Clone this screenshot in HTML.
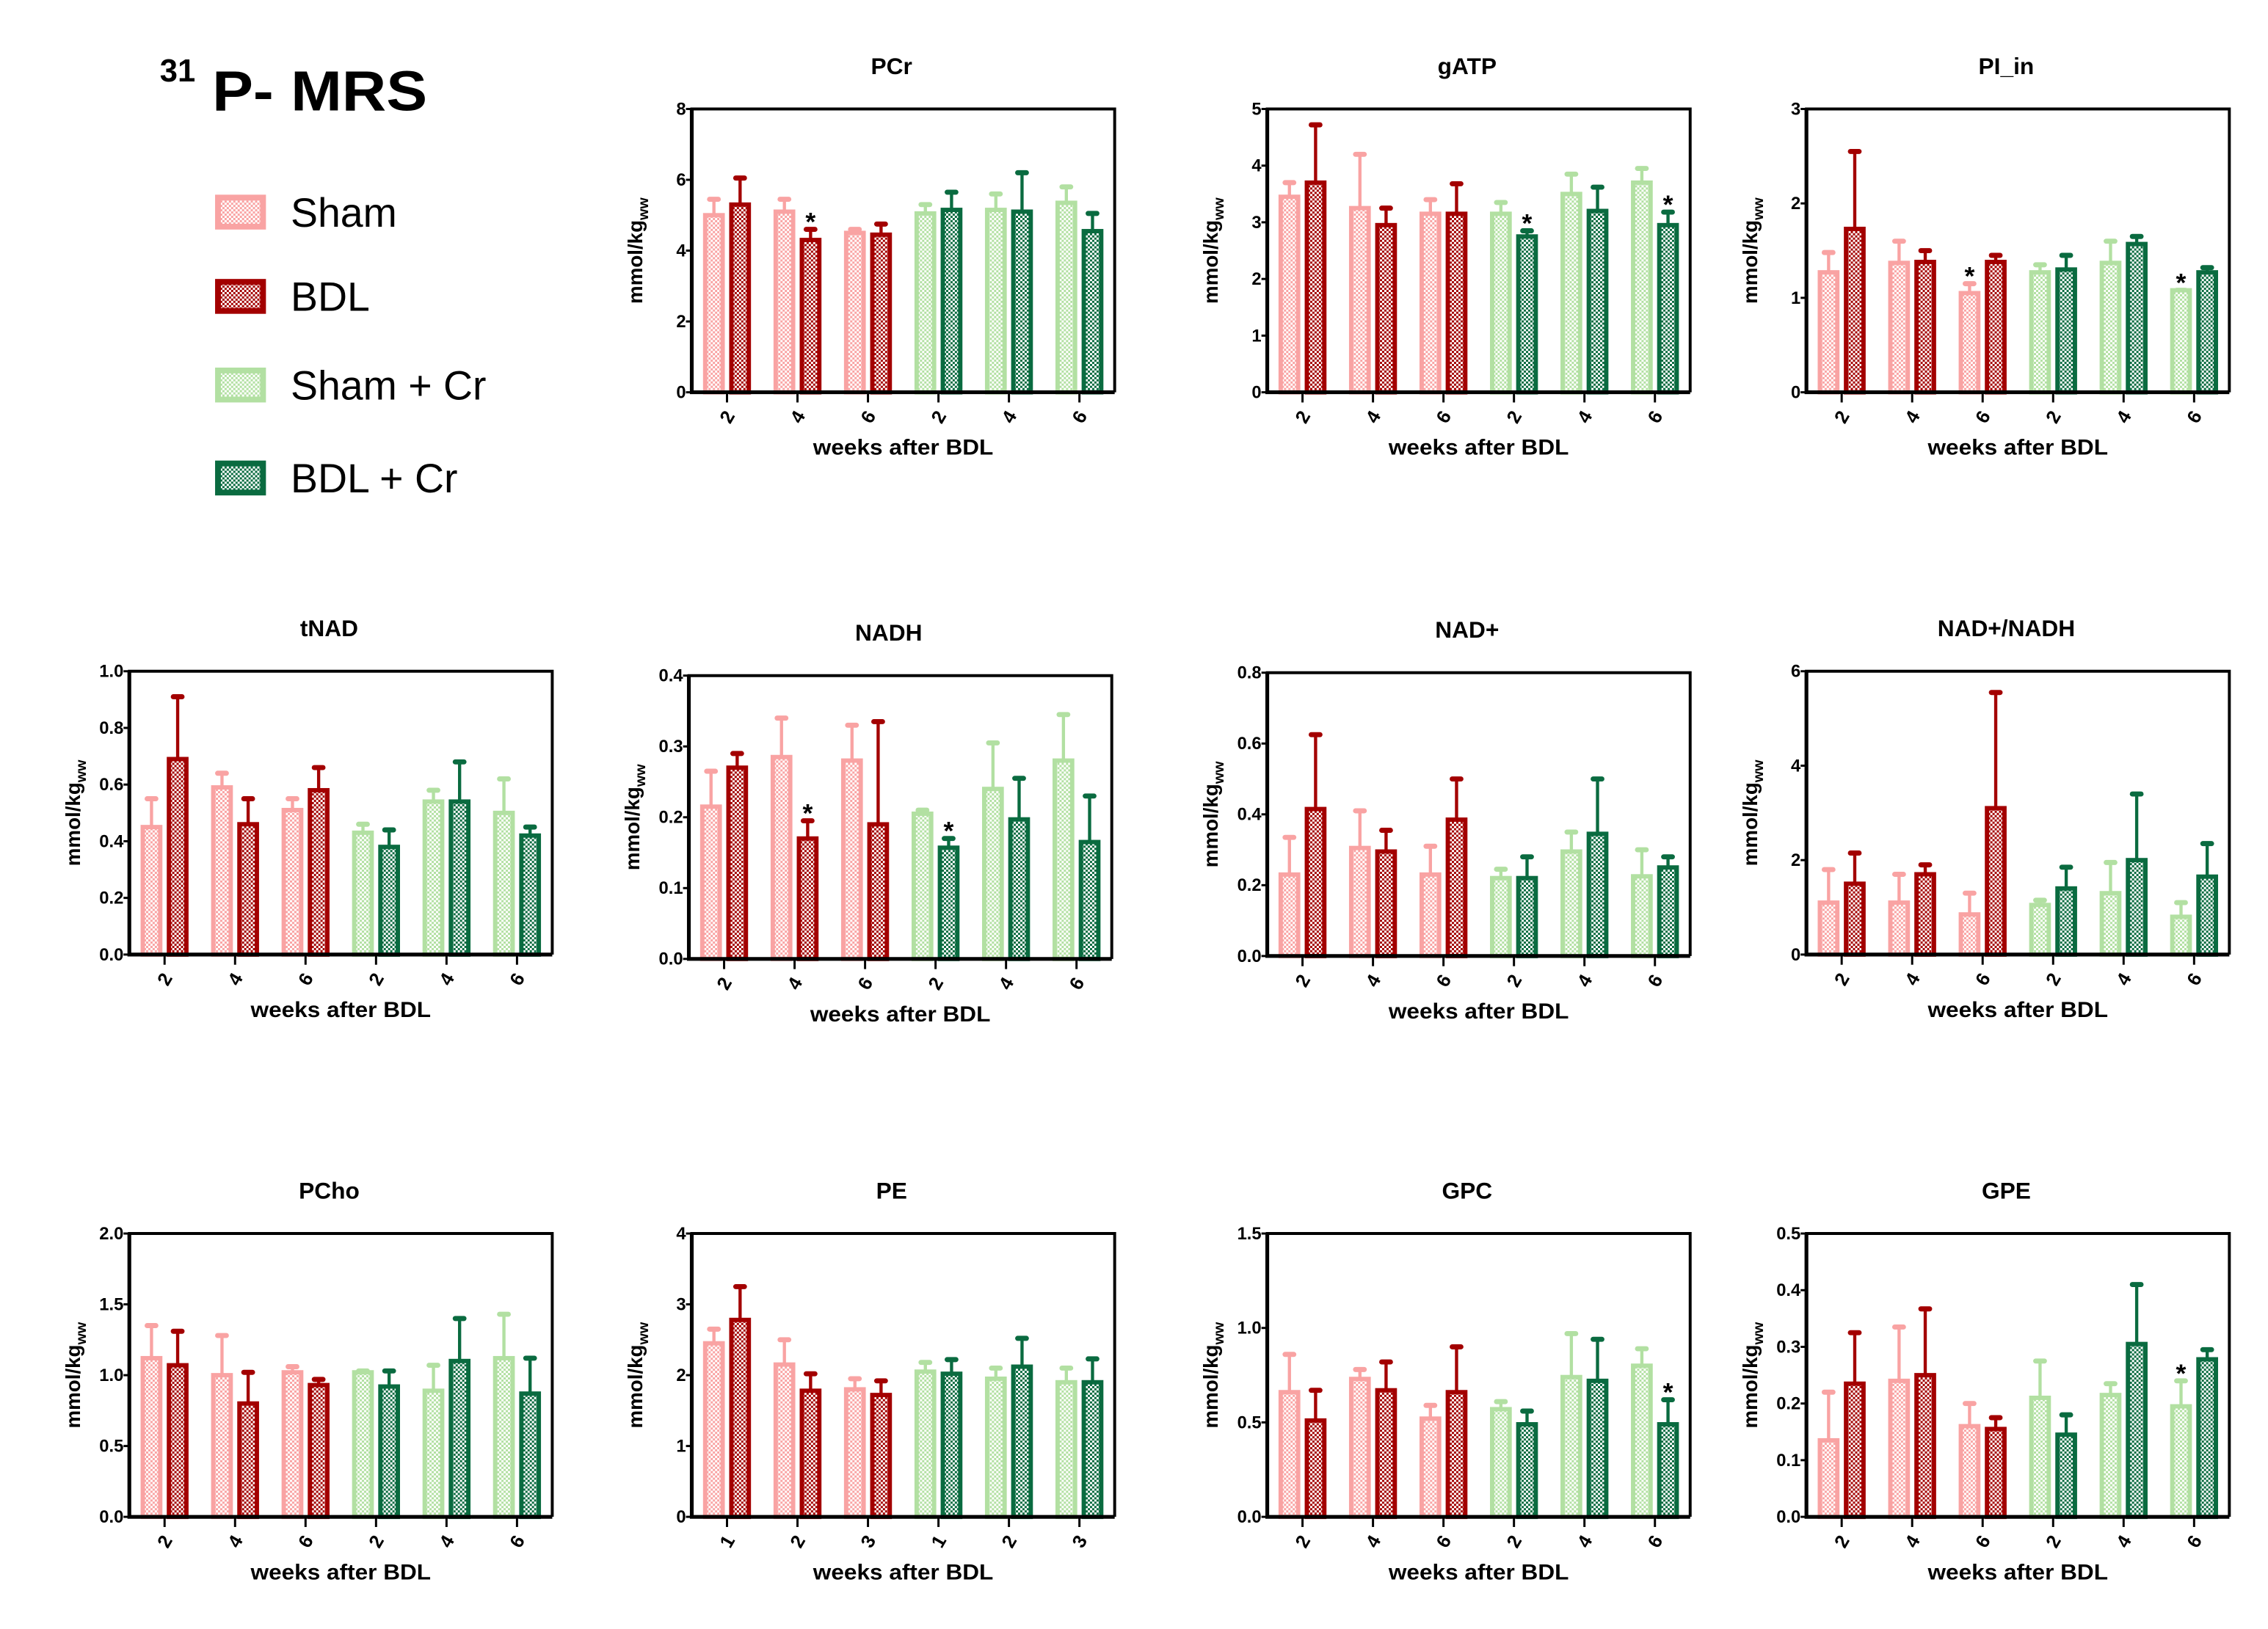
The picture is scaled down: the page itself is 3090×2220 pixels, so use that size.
<!DOCTYPE html>
<html><head><meta charset="utf-8">
<style>
html,body{margin:0;padding:0;background:#fff;}
svg{display:block;font-family:"Liberation Sans",Arial,sans-serif;}
</style></head>
<body>
<svg id="fig" width="3090" height="2220" viewBox="0 0 1560.6 1121.2" preserveAspectRatio="none" xmlns="http://www.w3.org/2000/svg">
<defs id="defs"></defs>
<g>
<text x="110" y="56" font-size="22" font-weight="bold">31</text>
<text x="146" y="76" font-size="39" font-weight="bold" textLength="148" lengthAdjust="spacingAndGlyphs">P- MRS</text>
</g>
<g id="legend"></g>
<g id="charts"></g>
</svg>
<script>
const NS='http://www.w3.org/2000/svg';
const colors=['#f9a3a3','#a30000','#b2e0a2','#0a6b40'];
const groupNames=['Sham','BDL','Sham + Cr','BDL + Cr'];

const pcrCtrl=[5.0,5.1,4.5,5.05,5.15,5.35];      const pcrCtrlTop=[5.45,5.45,4.6,5.3,5.6,5.8];
const pcrBdl=[5.3,4.3,4.45,5.15,5.1,4.55];       const pcrBdlTop=[6.05,4.6,4.75,5.65,6.2,5.05];
const gatpCtrl=[3.45,3.25,3.15,3.15,3.5,3.7];    const gatpCtrlTop=[3.7,4.2,3.4,3.35,3.85,3.95];
const gatpBdl=[3.7,2.95,3.15,2.75,3.2,2.95];     const gatpBdlTop=[4.72,3.25,3.68,2.85,3.62,3.18];
const piCtrl=[1.27,1.37,1.05,1.27,1.37,1.08];    const piCtrlTop=[1.48,1.6,1.15,1.35,1.6,1.08];
const piBdl=[1.73,1.38,1.38,1.3,1.57,1.27];      const piBdlTop=[2.55,1.5,1.45,1.45,1.65,1.32];
const tnadCtrl=[0.45,0.59,0.51,0.43,0.54,0.5];   const tnadCtrlTop=[0.55,0.64,0.55,0.46,0.58,0.62];
const tnadBdl=[0.69,0.46,0.58,0.38,0.54,0.42];   const tnadBdlTop=[0.91,0.55,0.66,0.44,0.68,0.45];
const nadhCtrl=[0.215,0.285,0.28,0.205,0.24,0.28]; const nadhCtrlTop=[0.265,0.34,0.33,0.21,0.305,0.345];
const nadhBdl=[0.27,0.17,0.19,0.157,0.197,0.165];  const nadhBdlTop=[0.29,0.195,0.335,0.17,0.255,0.23];
const nadpCtrl=[0.23,0.305,0.23,0.22,0.295,0.225]; const nadpCtrlTop=[0.335,0.41,0.31,0.245,0.35,0.3];
const nadpBdl=[0.415,0.295,0.385,0.22,0.345,0.25]; const nadpBdlTop=[0.625,0.355,0.5,0.28,0.5,0.28];
const ratioCtrl=[1.1,1.1,0.85,1.05,1.3,0.8];     const ratioCtrlTop=[1.8,1.7,1.3,1.15,1.95,1.1];
const ratioBdl=[1.5,1.7,3.1,1.4,2.0,1.65];       const ratioBdlTop=[2.15,1.9,5.55,1.85,3.4,2.35];
const pchoCtrl=[1.12,1.0,1.02,1.02,0.89,1.12];   const pchoCtrlTop=[1.35,1.28,1.06,1.03,1.07,1.43];
const pchoBdl=[1.07,0.8,0.93,0.92,1.1,0.87];     const pchoBdlTop=[1.31,1.02,0.97,1.03,1.4,1.12];
const peCtrl=[2.45,2.15,1.8,2.05,1.95,1.9];      const peCtrlTop=[2.65,2.5,1.95,2.18,2.1,2.1];
const peBdl=[2.78,1.78,1.72,2.02,2.12,1.9];      const peBdlTop=[3.25,2.02,1.92,2.22,2.52,2.23];
const gpcCtrl=[0.66,0.73,0.52,0.57,0.74,0.8];    const gpcCtrlTop=[0.86,0.78,0.59,0.61,0.97,0.89];
const gpcBdl=[0.51,0.67,0.66,0.49,0.72,0.49];    const gpcBdlTop=[0.67,0.82,0.9,0.56,0.94,0.62];
const gpeCtrl=[0.135,0.24,0.16,0.21,0.215,0.195]; const gpeCtrlTop=[0.22,0.335,0.2,0.275,0.235,0.24];
const gpeBdl=[0.235,0.25,0.155,0.145,0.305,0.278]; const gpeBdlTop=[0.325,0.367,0.175,0.18,0.41,0.295];
const weekLabels=['2','4','6','2','4','6'];
const peLabels=['1','2','3','1','2','3'];

const charts=[
 {id:'pcr',title:'PCr',x:476,y:75,max:8,ticks:['0','2','4','6','8'],ctrl:pcrCtrl,ctrlTop:pcrCtrlTop,bdl:pcrBdl,bdlTop:pcrBdlTop,labels:weekLabels,stars:[[1,1]]},
 {id:'gatp',title:'gATP',x:872,y:75,max:5,ticks:['0','1','2','3','4','5'],ctrl:gatpCtrl,ctrlTop:gatpCtrlTop,bdl:gatpBdl,bdlTop:gatpBdlTop,labels:weekLabels,stars:[[3,1],[5,1]]},
 {id:'pi-in',title:'PI_in',x:1243,y:75,max:3,ticks:['0','1','2','3'],ctrl:piCtrl,ctrlTop:piCtrlTop,bdl:piBdl,bdlTop:piBdlTop,labels:weekLabels,stars:[[2,0],[5,0]]},
 {id:'tnad',title:'tNAD',x:89,y:462,max:1,ticks:['0.0','0.2','0.4','0.6','0.8','1.0'],ctrl:tnadCtrl,ctrlTop:tnadCtrlTop,bdl:tnadBdl,bdlTop:tnadBdlTop,labels:weekLabels,stars:[]},
 {id:'nadh',title:'NADH',x:474,y:465,max:0.4,ticks:['0.0','0.1','0.2','0.3','0.4'],ctrl:nadhCtrl,ctrlTop:nadhCtrlTop,bdl:nadhBdl,bdlTop:nadhBdlTop,labels:weekLabels,stars:[[1,1],[3,1]]},
 {id:'nadplus',title:'NAD+',x:872,y:463,max:0.8,ticks:['0.0','0.2','0.4','0.6','0.8'],ctrl:nadpCtrl,ctrlTop:nadpCtrlTop,bdl:nadpBdl,bdlTop:nadpBdlTop,labels:weekLabels,stars:[]},
 {id:'ratio',title:'NAD+/NADH',x:1243,y:462,max:6,ticks:['0','2','4','6'],ctrl:ratioCtrl,ctrlTop:ratioCtrlTop,bdl:ratioBdl,bdlTop:ratioBdlTop,labels:weekLabels,stars:[]},
 {id:'pcho',title:'PCho',x:89,y:849,max:2,ticks:['0.0','0.5','1.0','1.5','2.0'],ctrl:pchoCtrl,ctrlTop:pchoCtrlTop,bdl:pchoBdl,bdlTop:pchoBdlTop,labels:weekLabels,stars:[]},
 {id:'pe',title:'PE',x:476,y:849,max:4,ticks:['0','1','2','3','4'],ctrl:peCtrl,ctrlTop:peCtrlTop,bdl:peBdl,bdlTop:peBdlTop,labels:peLabels,stars:[]},
 {id:'gpc',title:'GPC',x:872,y:849,max:1.5,ticks:['0.0','0.5','1.0','1.5'],ctrl:gpcCtrl,ctrlTop:gpcCtrlTop,bdl:gpcBdl,bdlTop:gpcBdlTop,labels:weekLabels,stars:[[5,1]]},
 {id:'gpe',title:'GPE',x:1243,y:849,max:0.5,ticks:['0.0','0.1','0.2','0.3','0.4','0.5'],ctrl:gpeCtrl,ctrlTop:gpeCtrlTop,bdl:gpeBdl,bdlTop:gpeBdlTop,labels:weekLabels,stars:[[5,0]]}
];

function mk(tag,attrs,parent){const e=document.createElementNS(NS,tag);for(const k in attrs)e.setAttribute(k,attrs[k]);if(parent)parent.appendChild(e);return e;}

// per-colour checker patterns
const defs=document.getElementById('defs');
colors.forEach((col,i)=>{
  const p=mk('pattern',{id:'chk'+i,width:3,height:3,patternUnits:'userSpaceOnUse'},defs);
  mk('rect',{width:3,height:3,fill:col},p);
  mk('rect',{x:0,y:0,width:1.5,height:1.5,fill:'#fff'},p);
  mk('rect',{x:1.5,y:1.5,width:1.5,height:1.5,fill:'#fff'},p);
});

const lg=document.getElementById('legend');
const legY=[146,204,265,329];
groupNames.forEach((n,i)=>{
  const g=mk('g',{},lg);
  
  
  const r=mk('rect',{x:150,y:legY[i]-10,width:31,height:20,fill:'url(#chk'+i+')',stroke:colors[i],'stroke-width':4},g);
  
  
  const t=mk('text',{x:200,y:legY[i]+10,'font-size':28},g);
  t.textContent=n;
  
  
});

const W=291,H=195;
const root=document.getElementById('charts');
charts.forEach(c=>{
  const g=mk('g',{},root);
  
  
  const x0=c.x,y0=c.y,yb=y0+H;
  const sy=v=>yb-v/c.max*H;
  const gx=i=>x0+(i+0.5)*W/6;
  const t=mk('text',{x:x0+W/2-8,y:y0-24,'font-size':16,'font-weight':'bold','text-anchor':'middle'},g);
  t.textContent=c.title;
  
  
  for(let i=0;i<6;i++){
    const pairs=[[c.ctrl[i],c.ctrlTop[i],i<3?0:2,-9],[c.bdl[i],c.bdlTop[i],i<3?1:3,9]];
    pairs.forEach(([v,top,ci,dx])=>{
      const cx=gx(i)+dx, col=colors[ci];
      const e=mk('line',{x1:cx,x2:cx,y1:sy(v),y2:sy(top),stroke:col,'stroke-width':2.2},g);
      
      
      const cap=mk('line',{x1:cx-3,x2:cx+3,y1:sy(top),y2:sy(top),stroke:col,'stroke-width':3.5,'stroke-linecap':'round'},g);
      
      
      const b=mk('rect',{x:cx-6,y:sy(v),width:12,height:yb-sy(v),fill:'url(#chk'+ci+')',stroke:col,'stroke-width':3},g);
      
      
    });
  }
  c.stars.forEach(([i,w])=>{
    const top=w?c.bdlTop[i]:c.ctrlTop[i];
    const s=mk('text',{x:gx(i)+(w?9:-9),y:sy(top)+1,'font-size':18,'font-weight':'bold','text-anchor':'middle'},g);
    s.textContent='*';
    
    
  });
  const f=mk('path',{d:`M${x0} ${yb}V${y0}H${x0+W}V${yb}`,fill:'none',stroke:'#000','stroke-width':2},g);
  
  
  const ax=mk('path',{d:`M${x0} ${y0}V${yb}H${x0+W}`,fill:'none',stroke:'#000','stroke-width':2.6},g);
  
  
  c.ticks.forEach((tl,k)=>{
    const yy=yb-k/(c.ticks.length-1)*H;
    mk('line',{x1:x0-4,x2:x0,y1:yy,y2:yy,stroke:'#000','stroke-width':1.5},g);
    const tt=mk('text',{x:x0-4,y:yy+4,'font-size':12,'font-weight':'bold','text-anchor':'end'},g);
    tt.textContent=tl;
    
    
  });
  for(let i=0;i<6;i++){
    mk('line',{x1:gx(i),x2:gx(i),y1:yb,y2:yb+7,stroke:'#000','stroke-width':1.5},g);
    const xt=mk('text',{x:gx(i)+1,y:yb+22,'font-size':13,'font-weight':'bold','text-anchor':'middle',transform:`rotate(-60 ${gx(i)} ${yb+18})`},g);
    xt.textContent=c.labels[i];
    
    
  }
  const xl=mk('text',{x:x0+W/2,y:yb+43,'font-size':15,'font-weight':'bold','text-anchor':'middle',textLength:124,lengthAdjust:'spacingAndGlyphs'},g);
  xl.textContent='weeks after BDL';
  
  
  const yl=mk('text',{x:0,y:0,'font-size':14,'font-weight':'bold','text-anchor':'middle',transform:`translate(${x0-34} ${y0+H/2}) rotate(-90)`},g);
  yl.innerHTML='mmol/kg<tspan font-size="10" dy="4">ww</tspan>';
  
  
});
</script>
</body></html>
